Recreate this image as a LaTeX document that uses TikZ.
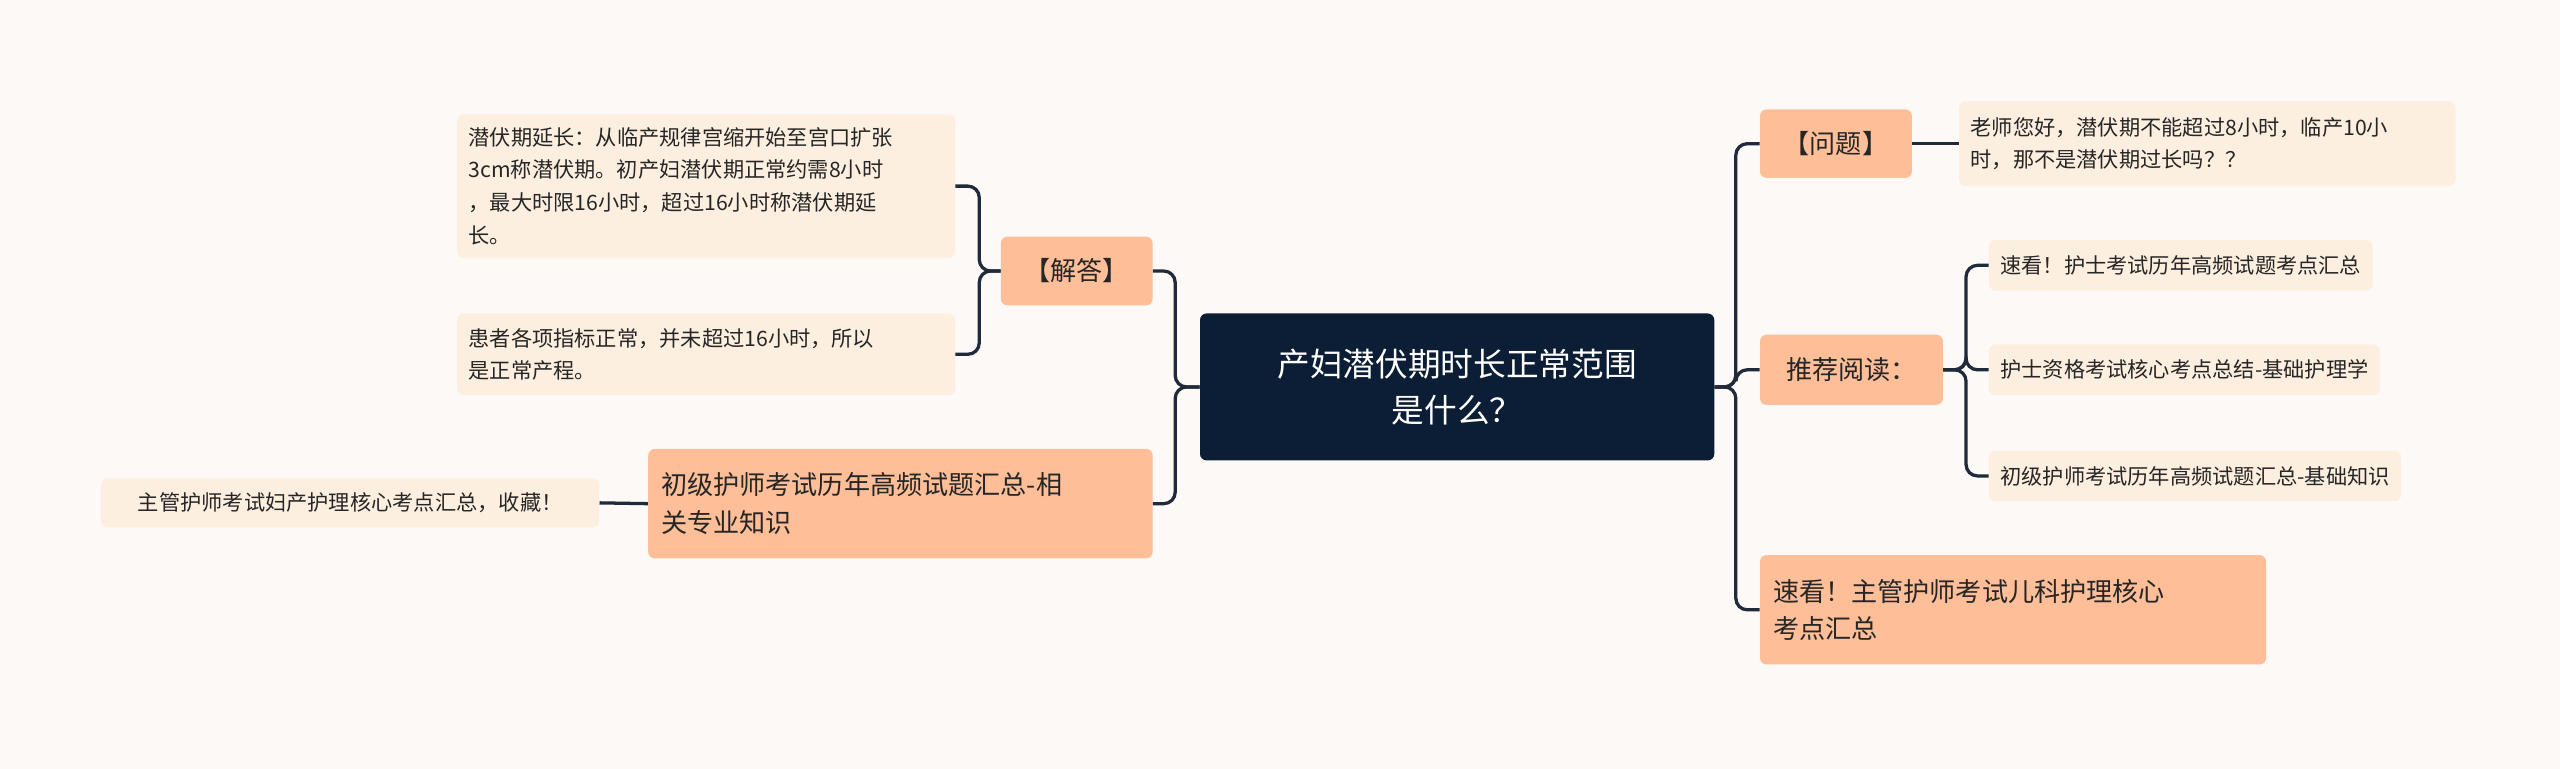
\documentclass[tikz,border=0pt]{standalone}
\usepackage{fontspec}
\setmainfont{Noto Sans CJK SC}
\definecolor{bg}{HTML}{FDF9F6}
\definecolor{navy}{HTML}{0C1E36}
\definecolor{salmon}{HTML}{FDBE98}
\definecolor{cream}{HTML}{FDEFDF}
\definecolor{line}{HTML}{1F2A3A}
\tikzset{
 box/.style={rounded corners=4pt, anchor=center, inner ysep=0pt},
 leaf/.style={box, fill=cream, font=\fontsize{13}{20}\selectfont, text=black!85, align=left, inner xsep=7pt},
 br/.style={box, fill=salmon, font=\fontsize{16}{23}\selectfont, text=black!85, align=left, inner xsep=8pt},
 conn/.style={draw=line, line width=2pt, rounded corners=7pt}
}
\begin{document}
\begin{tikzpicture}[x=1pt,y=-1pt]
\fill[bg] (0,0) rectangle (1568,471);
\useasboundingbox (0,0) rectangle (1568,471);
\node[box, fill=navy, text=white, font=\fontsize{20}{28}\selectfont, align=center, minimum width=315, minimum height=90] (c) at (892.5,237) {产妇潜伏期时长正常范围\\是什么？};
% left
\node[br, minimum width=93, minimum height=42] (jd) at (659.5,166) {【解答】};
\node[leaf, text width=291, minimum height=88] (l1) at (432.5,114) {潜伏期延长：从临产规律宫缩开始至宫口扩张\\3cm称潜伏期。初产妇潜伏期正常约需8小时\\，最大时限16小时，超过16小时称潜伏期延\\长。};
\node[leaf, text width=291, minimum height=50] (l2) at (432.5,217) {患者各项指标正常，并未超过16小时，所以\\是正常产程。};
\node[br, text width=293, minimum height=67] (cj) at (551.5,308.5) {初级护师考试历年高频试题汇总-相\\关专业知识};
\node[leaf, minimum width=305, minimum height=30] (l3) at (214.5,308) {主管护师考试妇产护理核心考点汇总，收藏！};
% right
\node[br, minimum width=93, minimum height=42] (wt) at (1124.5,88) {【问题】};
\node[leaf, text width=290, minimum height=52] (r1) at (1352,88) {老师您好，潜伏期不能超过8小时，临产10小\\时，那不是潜伏期过长吗？？};
\node[br, minimum width=112, minimum height=43] (tj) at (1134,226.5) {推荐阅读：};
\node[leaf, minimum height=31, anchor=west] (t1) at (1218,162.5) {速看！护士考试历年高频试题考点汇总};
\node[leaf, minimum height=31, anchor=west] (t2) at (1218,226.5) {护士资格考试核心考点总结-基础护理学};
\node[leaf, minimum height=31, anchor=west] (t3) at (1218,291.5) {初级护师考试历年高频试题汇总-基础知识};
\node[br, text width=294, minimum height=67] (sk) at (1233,373.5) {速看！主管护师考试儿科护理核心\\考点汇总};
% connectors
\draw[conn] (c.west) -- ++(-15,0) |- (jd.east);
\draw[conn] (c.west) -- ++(-15,0) |- (cj.east);
\draw[conn] (jd.west) -- ++(-13,0) |- (l1.east);
\draw[conn] (jd.west) -- ++(-13,0) |- (l2.east);
\draw[conn] (cj.west) -- (l3.east);
\draw[conn] (c.east) -- ++(13,0) |- (wt.west);
\draw[conn] (c.east) -- ++(13,0) |- (tj.west);
\draw[conn] (c.east) -- ++(13,0) |- (sk.west);
\draw[conn] (wt.east) -- (r1.west);
\draw[conn] (tj.east) -- ++(14,0) |- (t1.west);
\draw[conn] (tj.east) -- ++(14,0) |- (t2.west);
\draw[conn] (tj.east) -- ++(14,0) |- (t3.west);
\end{tikzpicture}
\end{document}
